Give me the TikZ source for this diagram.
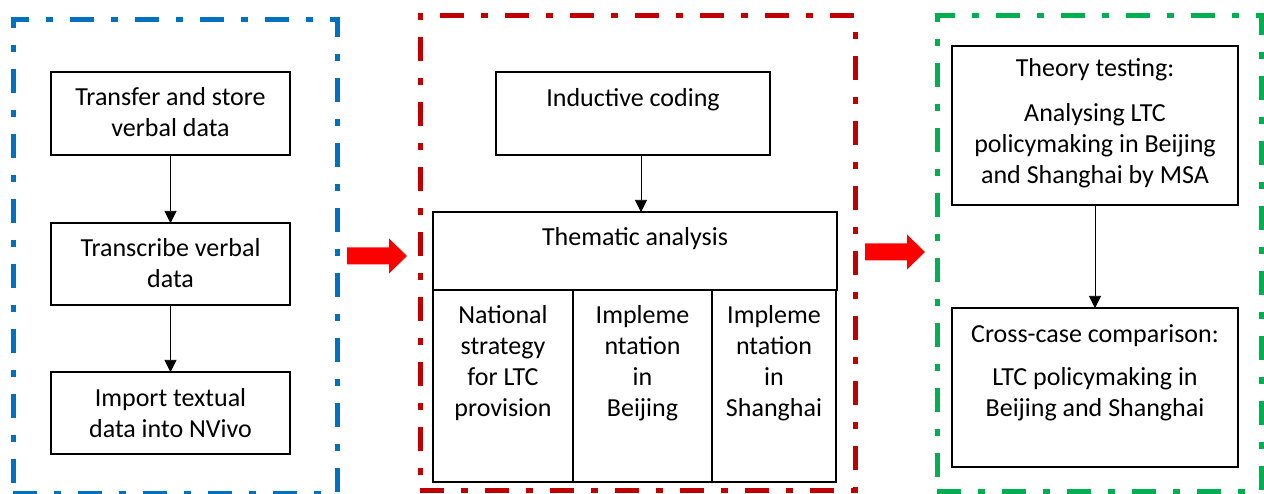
\documentclass[tikz,border=0pt]{standalone}
\usepackage{fontspec}
\setmainfont{Carlito}
\usetikzlibrary{arrows.meta,fit,calc}
\definecolor{fblue}{RGB}{0,112,192}
\definecolor{fred}{RGB}{192,0,0}
\definecolor{fgreen}{RGB}{0,176,80}
\definecolor{arrred}{RGB}{255,0,0}
\newcommand\myblockarrow[1]{\fill[arrred] (#1) ++(0,-8.5) -- ++(42,0) -- ++(0,-9) -- ++(18,17.5) -- ++(-18,17.5) -- ++(0,-9) -- ++(-42,0) -- cycle;}
\begin{document}
\begin{tikzpicture}[x=1pt,y=-1pt,
  every node/.style={inner sep=0pt,outer sep=0pt},
  frame/.style={draw, line width=5pt, dash pattern=on 24pt off 17pt on 7pt off 17pt, rectangle},
  box/.style={draw=black, line width=1.3pt, rectangle, inner sep=0pt},
  txt/.style={align=center, anchor=north, font=\fontsize{26}{31}\selectfont},
  conn/.style={-{Triangle[length=12pt,width=12pt]}, line width=0.7pt}]
\useasboundingbox (0,0) rectangle (1264,494);
\clip (0,0) rectangle (1264,494);
% frames
\node[frame, draw=fblue, fit={(13,20) (337,493)}] (blue) {};
\node[frame, draw=fred, fit={(420,16) (855,490)}] (red) {};
\node[frame, draw=fgreen, fit={(937,16) (1261,491)}] (green) {};
% block arrows between frames
\coordinate (a1) at ($(blue.east)+(10,-0.5)$);
\coordinate (a2) at ($(red.east)+(10,-1)$);
\myblockarrow{a1}
\myblockarrow{a2}
% left column
\node[box, fit={(51,72) (290,155)}] (b1) {};
\node[box, fit={(51,223) (290,305)}] (b2) {};
\node[box, fit={(51,372) (290,454)}] (b3) {};
\node[txt] (t1) at (170.5,84.3) {\strut Transfer and store\\verbal data};
\node[txt] (t2) at (170.5,235.3) {\strut Transcribe verbal\\data};
\node[txt] (t3) at (170.5,384.3) {\strut Import textual\\data into NVivo};
\draw[conn] (b1.south) -- (b2.north);
\draw[conn] (b2.south) -- (b3.north);
% middle column
\node[box, fit={(496,72) (770,155)}] (ic) {};
\node[box, fit={(433,212) (837,290)}] (ta) {};
\node[box, fit={(433,290) (573,482)}] (s1) {};
\node[box, fit={(573,290) (712,482)}] (s2) {};
\node[box, fit={(712,290) (836,482)}] (s3) {};
\node[txt] (tic) at (633,85.3) {\strut Inductive coding};
\node[txt] (tta) at (635,224.3) {\strut Thematic analysis};
\node[txt] (ts1) at (503,301.3) {\strut National\\strategy\\for LTC\\provision};
\node[txt] (ts2) at (642.5,301.3) {\strut Impleme\\ntation\\in\\Beijing};
\node[txt] (ts3) at (774,301.3) {\strut Impleme\\ntation\\in\\Shanghai};
\draw[conn] ([xshift=8pt]ic.south) -- ([xshift=8pt]ic.south |- ta.north);
% right column
\node[box, fit={(952,46) (1238,205)}] (tt) {};
\node[box, fit={(952,308) (1238,467)}] (cc) {};
\node[txt] (ttt) at (1095,55.3) {\strut Theory testing:};
\node[txt] (ttb) at (1095,100.3) {\strut Analysing LTC\\policymaking in Beijing\\and Shanghai by MSA};
\node[txt] (tcc) at (1095,320.3) {\strut Cross-case comparison:};
\node[txt] (tcb) at (1095,363.3) {\strut LTC policymaking in\\Beijing and Shanghai};
\draw[conn] (tt.south) -- (cc.north);
\end{tikzpicture}
\end{document}
